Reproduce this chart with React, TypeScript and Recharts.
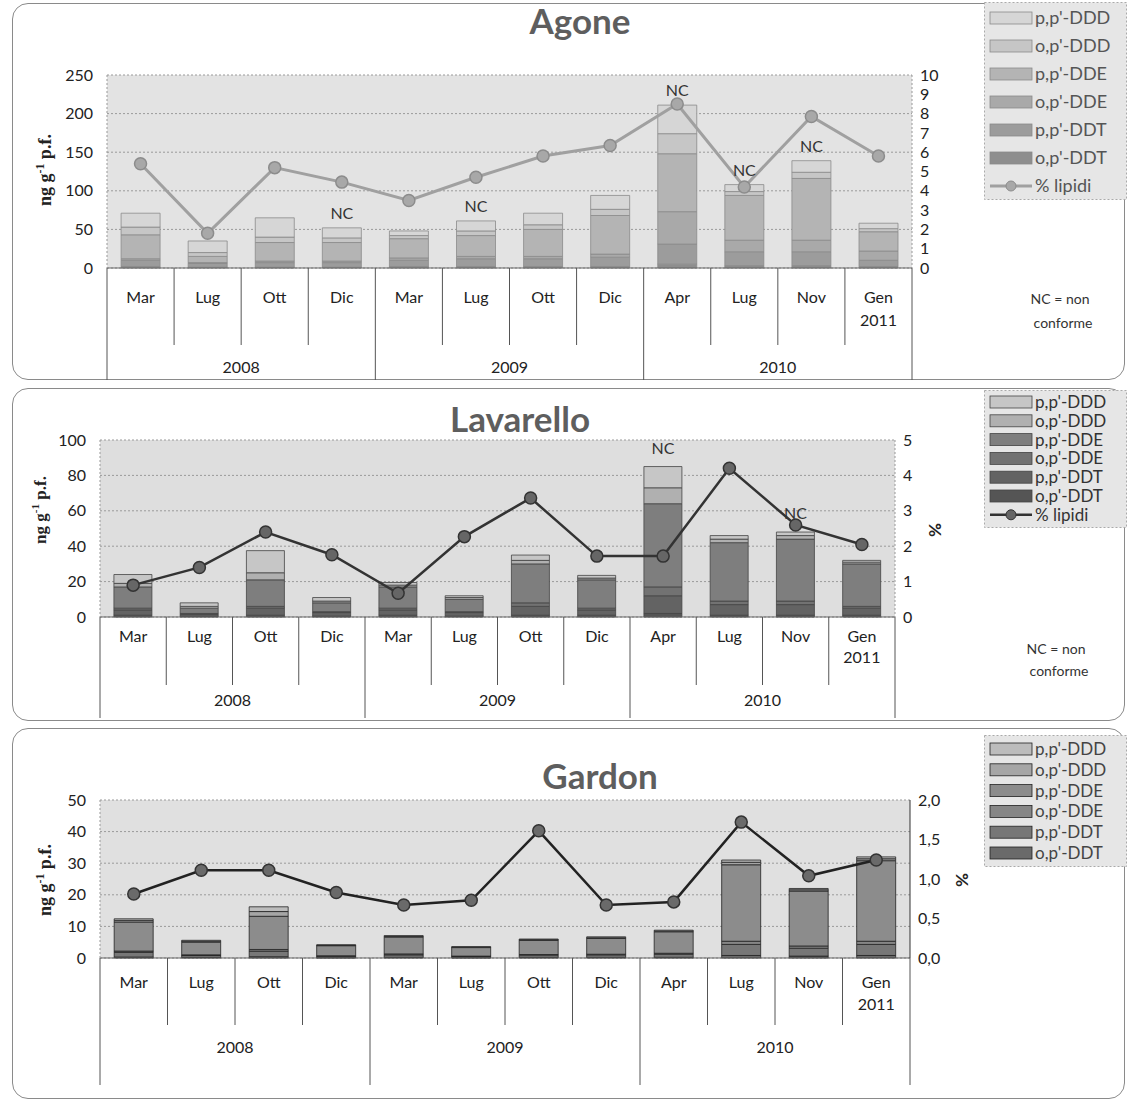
import React from 'react';
import { ComposedChart, Bar, Line, XAxis, YAxis, CartesianGrid, LabelList } from 'recharts';

const FONT = 'Lato, "Open Sans", sans-serif';
const W = 1128;

// ---------- shared categories ----------
const categories = ['Mar 2008', 'Lug 2008', 'Ott 2008', 'Dic 2008', 'Mar 2009', 'Lug 2009', 'Ott 2009', 'Dic 2009', 'Apr 2010', 'Lug 2010', 'Nov 2010', 'Gen 2011'];
const monthLabels = ['Mar', 'Lug', 'Ott', 'Dic', 'Mar', 'Lug', 'Ott', 'Dic', 'Apr', 'Lug', 'Nov', 'Gen'];
const monthSubLabels = ['', '', '', '', '', '', '', '', '', '', '', '2011'];
const yearLabels = ['2008', '2009', '2010'];
const yearGroupStart = [0, 4, 8];
const yearGroupLen = [4, 4, 4];

// stack order bottom -> top
const seriesKeys = ['opDDT', 'ppDDT', 'opDDE', 'ppDDE', 'opDDD', 'ppDDD'];
const seriesNames = ["o,p'-DDT", "p,p'-DDT", "o,p'-DDE", "p,p'-DDE", "o,p'-DDD", "p,p'-DDD"];
const lipidName = '% lipidi';

// ---------- Agone ----------
const agoneOpDDT = [2, 1, 1, 1, 2, 2, 2, 2, 5, 3, 3, 2];
const agonePpDDT = [8, 5, 6, 6, 8, 10, 10, 12, 26, 18, 18, 8];
const agoneOpDDE = [2, 1, 2, 2, 3, 3, 3, 4, 42, 15, 15, 12];
const agonePpDDE = [31, 8, 24, 24, 25, 27, 35, 50, 75, 58, 80, 25];
const agoneOpDDD = [10, 5, 7, 6, 4, 6, 6, 8, 26, 5, 8, 4];
const agonePpDDD = [18, 15, 25, 13, 6, 13, 15, 18, 37, 9, 15, 7];
const agoneLipidi = [5.4, 1.8, 5.2, 4.45, 3.5, 4.7, 5.8, 6.35, 8.5, 4.2, 7.85, 5.8];
const agoneNC = [0, 0, 0, 1, 0, 1, 0, 0, 1, 1, 1, 0];
const agoneLeftTicks = [0, 50, 100, 150, 200, 250];
const agoneRightTicks = [0, 1, 2, 3, 4, 5, 6, 7, 8, 9, 10];

// ---------- Lavarello ----------
const lavOpDDT = [1, 0.5, 1, 0.5, 1, 0.5, 1, 1, 2, 1, 1, 1];
const lavPpDDT = [3, 1, 4, 2, 3, 2, 5, 3, 10, 6, 6, 4];
const lavOpDDE = [1, 0.5, 1, 0.5, 1, 0.5, 2, 1, 5, 2, 2, 1];
const lavPpDDE = [12, 3, 15, 5, 12, 7, 22, 16, 47, 33, 35, 24];
const lavOpDDD = [2, 1, 4, 1, 1, 1, 2, 1, 9, 2, 2, 1];
const lavPpDDD = [5, 2, 12.5, 2, 1.5, 1, 3, 1.5, 12, 2, 2, 1];
const lavLipidi = [0.9, 1.4, 2.4, 1.76, 0.67, 2.27, 3.36, 1.72, 1.72, 4.2, 2.6, 2.05];
const lavNC = [0, 0, 0, 0, 0, 0, 0, 0, 1, 0, 1, 0];
const lavLeftTicks = [0, 20, 40, 60, 80, 100];
const lavRightTicks = [0, 1, 2, 3, 4, 5];

// ---------- Gardon ----------
const garOpDDT = [0.3, 0.2, 0.4, 0.1, 0.2, 0.1, 0.2, 0.2, 0.2, 0.8, 0.6, 0.8];
const garPpDDT = [1.5, 0.6, 1.8, 0.5, 0.8, 0.4, 0.7, 0.8, 1.0, 3.5, 2.5, 3.5];
const garOpDDE = [0.4, 0.2, 0.5, 0.1, 0.3, 0.1, 0.2, 0.2, 0.3, 1.0, 0.7, 1.0];
const garPpDDE = [9.2, 4.0, 10.5, 3.2, 5.3, 2.7, 4.5, 5.0, 6.8, 24.2, 17.4, 25.5];
const garOpDDD = [0.5, 0.3, 1.5, 0.1, 0.2, 0.1, 0.2, 0.2, 0.2, 0.8, 0.4, 0.6];
const garPpDDD = [0.5, 0.3, 1.5, 0.2, 0.3, 0.2, 0.2, 0.3, 0.3, 0.7, 0.4, 0.6];
const garLipidi = [0.81, 1.11, 1.11, 0.83, 0.67, 0.73, 1.61, 0.67, 0.71, 1.72, 1.04, 1.24];
const garNC = [0, 0, 0, 0, 0, 0, 0, 0, 0, 0, 0, 0];
const garLeftTicks = [0, 10, 20, 30, 40, 50];
const garRightTicks = [0, 0.5, 1, 1.5, 2];

const fmtInt = (v: number) => String(v);
const fmtComma = (v: number) => v.toFixed(1).replace('.', ',');

const panels: any[] = [
  {
    title: 'Agone', top: 0, height: 382, titleX: 580, titleY: 20,
    border: { top: 3, height: 377 },
    plotLeft: 107, plotRight: 912, plotTop: 75, plotBottom: 268,
    leftTicks: agoneLeftTicks, rightTicks: agoneRightTicks, rightFmt: fmtInt,
    series: [agoneOpDDT, agonePpDDT, agoneOpDDE, agonePpDDE, agoneOpDDD, agonePpDDD],
    lipidi: agoneLipidi, nc: agoneNC, ncDy: 9,
    colors: ['#8e8e8e', '#9c9c9c', '#a9a9a9', '#b4b4b4', '#c6c6c6', '#d6d6d6'],
    barStroke: '#8a8a8a', bg: '#e3e3e3',
    lineStroke: '#a0a0a0', lineWidth: 3, dotFill: '#a8a8a8', dotStroke: '#8c8c8c',
    monthDy: 35, subDy: 58, monthSep: 77, yearSep: 112, yearDy: 105,
    legend: { x: 984, y: 2, w: 143, h: 198, row0: 16, rowH: 28, fs: 18, showLine: true, color: '#555' },
    yTitle: { x: 45, y: 170, fs: 18 }, pct: null,
    note: { x: 1060, y1: 298, y2: 322 },
    rightAxisStroke: '#999', rightDash: '2 2',
  },
  {
    title: 'Lavarello', top: 388, height: 334, titleX: 520, titleY: 30,
    border: { top: 0, height: 333 },
    plotLeft: 100, plotRight: 895, plotTop: 52, plotBottom: 229,
    leftTicks: lavLeftTicks, rightTicks: lavRightTicks, rightFmt: fmtInt,
    series: [lavOpDDT, lavPpDDT, lavOpDDE, lavPpDDE, lavOpDDD, lavPpDDD],
    lipidi: lavLipidi, nc: lavNC, ncDy: 13,
    colors: ['#555555', '#636363', '#727272', '#7e7e7e', '#b0b0b0', '#c6c6c6'],
    barStroke: '#444', bg: '#dedede',
    lineStroke: '#333', lineWidth: 2.5, dotFill: '#666', dotStroke: '#333',
    monthDy: 25, subDy: 46, monthSep: 68, yearSep: 101, yearDy: 89,
    legend: { x: 984, y: 2, w: 143, h: 138, row0: 12, rowH: 18.8, fs: 17, showLine: true, color: '#333' },
    yTitle: { x: 40, y: 122, fs: 17 }, pct: { x: 935, y: 142 },
    note: { x: 1056, y1: 260, y2: 282 },
    rightAxisStroke: '#999', rightDash: '2 2',
  },
  {
    title: 'Gardon', top: 728, height: 372, titleX: 600, titleY: 47,
    border: { top: 0, height: 371 },
    plotLeft: 100, plotRight: 910, plotTop: 72, plotBottom: 230,
    leftTicks: garLeftTicks, rightTicks: garRightTicks, rightFmt: fmtComma,
    series: [garOpDDT, garPpDDT, garOpDDE, garPpDDE, garOpDDD, garPpDDD],
    lipidi: garLipidi, nc: garNC, ncDy: 9,
    colors: ['#6a6a6a', '#777777', '#868686', '#8c8c8c', '#a6a6a6', '#bcbcbc'],
    barStroke: '#222', bg: '#e0e0e0',
    lineStroke: '#222', lineWidth: 2.5, dotFill: '#6a6a6a', dotStroke: '#333',
    monthDy: 30, subDy: 52, monthSep: 67, yearSep: 127, yearDy: 95,
    legend: { x: 984, y: 7, w: 143, h: 132, row0: 14, rowH: 20.8, fs: 17, showLine: false, color: '#444' },
    yTitle: { x: 45, y: 152, fs: 18 }, pct: { x: 962, y: 152 },
    note: null,
    rightAxisStroke: '#333', rightDash: undefined,
  },
];

function XTick(props: any) {
  const { x, y, payload, cfg } = props;
  const i = props.index ?? payload?.index ?? 0;
  const band = (cfg.plotRight - cfg.plotLeft) / categories.length;
  const left = x - band / 2;
  const g = yearGroupStart.indexOf(i);
  const isStart = g >= 0;
  const last = i === categories.length - 1;
  const yearIdx = yearGroupStart.findIndex((s, k) => i === s + Math.floor(yearGroupLen[k] / 2) - 1);
  return (
    <g>
      <line x1={left} x2={left} y1={y} y2={y + (isStart ? cfg.yearSep : cfg.monthSep)} stroke="#555" strokeWidth={1} />
      {last && <line x1={left + band} x2={left + band} y1={y} y2={y + cfg.yearSep} stroke="#555" strokeWidth={1} />}
      <text x={x} y={y + cfg.monthDy} textAnchor="middle" fontFamily={FONT} fontSize={16} fill="#222">{monthLabels[i]}</text>
      {monthSubLabels[i] && (
        <text x={x} y={y + cfg.subDy} textAnchor="middle" fontFamily={FONT} fontSize={16} fill="#222">{monthSubLabels[i]}</text>
      )}
      {yearIdx >= 0 && (
        <text x={x + (yearGroupLen[yearIdx] % 2 === 0 ? band / 2 : 0)} y={y + cfg.yearDy} textAnchor="middle" fontFamily={FONT} fontSize={16} fill="#222">{yearLabels[yearIdx]}</text>
      )}
    </g>
  );
}

function LegendBox({ cfg }: any) {
  const L = cfg.legend;
  const rows: any[] = [];
  for (let k = seriesKeys.length - 1; k >= 0; k--) rows.push({ name: seriesNames[k], color: cfg.colors[k], type: 'bar' });
  if (L.showLine) rows.push({ name: lipidName, type: 'line' });
  return (
    <svg style={{ position: 'absolute', left: L.x, top: cfg.top + L.y }} width={L.w} height={L.h}>
      <rect x={0.5} y={0.5} width={L.w - 1} height={L.h - 1} fill="#e6e6e6" stroke="#aaa" strokeDasharray="2 2" />
      {rows.map((r, j) => {
        const cy = L.row0 + j * L.rowH;
        return (
          <g key={j}>
            {r.type === 'bar' ? (
              <rect x={6} y={cy - 6} width={42} height={12} fill={r.color} stroke={cfg.barStroke} strokeWidth={0.8} />
            ) : (
              <g>
                <line x1={6} x2={48} y1={cy} y2={cy} stroke={cfg.lineStroke} strokeWidth={cfg.lineWidth} />
                <circle cx={27} cy={cy} r={5} fill={cfg.dotFill} stroke={cfg.dotStroke} />
              </g>
            )}
            <text x={51} y={cy + 6} fontFamily={FONT} fontSize={L.fs} fill={L.color}>{r.name}</text>
          </g>
        );
      })}
    </svg>
  );
}

function Panel({ cfg }: any) {
  const data = categories.map((c, i) => {
    const row: any = { cat: c, lip: cfg.lipidi[i], nc: cfg.nc[i] };
    seriesKeys.forEach((k, s) => { row[k] = cfg.series[s][i]; });
    return row;
  });
  const leftMax = cfg.leftTicks[cfg.leftTicks.length - 1];
  const rightMax = cfg.rightTicks[cfg.rightTicks.length - 1];
  const tickStyle = { fontFamily: FONT, fontSize: 16, fill: '#222' };
  return (
    <>
      <div style={{ position: 'absolute', left: 12, top: cfg.top + cfg.border.top, width: 1113, height: cfg.border.height, border: '1.5px solid #8a8a8a', borderRadius: 16, boxSizing: 'border-box' }} />
      <div style={{ position: 'absolute', left: 0, top: cfg.top, width: W, height: cfg.height }}>
        <ComposedChart width={W} height={cfg.height} data={data} margin={{ top: cfg.plotTop, right: 0, left: 0, bottom: 0 }} barCategoryGap="21%">
          <CartesianGrid yAxisId="l" xAxisId="x" vertical={false} horizontal={true} fill={cfg.bg} stroke="#9a9a9a" strokeDasharray="2 2" />
          <XAxis xAxisId="x" dataKey="cat" interval={0} height={cfg.height - cfg.plotBottom} tickLine={false} tickSize={0} tickMargin={0}
            axisLine={{ stroke: '#666' }} tick={(p: any) => <XTick {...p} cfg={cfg} />} />
          <YAxis yAxisId="l" orientation="left" width={cfg.plotLeft} domain={[0, leftMax]} ticks={cfg.leftTicks} interval={0}
            tickLine={false} tickMargin={8} tick={tickStyle} axisLine={{ stroke: '#999', strokeDasharray: '2 2' }} />
          <YAxis yAxisId="r" orientation="right" width={W - cfg.plotRight} domain={[0, rightMax]} ticks={cfg.rightTicks} interval={0}
            tickFormatter={cfg.rightFmt} tickLine={false} tickMargin={2} tick={tickStyle}
            axisLine={{ stroke: cfg.rightAxisStroke, strokeDasharray: cfg.rightDash }} />
          {seriesKeys.map((k, s) => (
            <Bar key={k} xAxisId="x" yAxisId="l" dataKey={k} name={seriesNames[s]} stackId="a" fill={cfg.colors[s]}
              stroke={cfg.barStroke} strokeWidth={0.8} isAnimationActive={false}>
              {s === seriesKeys.length - 1 && (
                <LabelList dataKey="nc" content={(p: any) => (p.value ? (
                  <text x={p.x + p.width / 2} y={p.y - cfg.ncDy} textAnchor="middle" fontFamily={FONT} fontSize={16} fill="#333">NC</text>
                ) : null)} />
              )}
            </Bar>
          ))}
          <Line xAxisId="x" yAxisId="r" dataKey="lip" name={lipidName} stroke={cfg.lineStroke} strokeWidth={cfg.lineWidth}
            dot={{ r: 6, fill: cfg.dotFill, stroke: cfg.dotStroke, strokeWidth: 1.5 }} isAnimationActive={false} />
        </ComposedChart>
      </div>
      <div style={{ position: 'absolute', left: 0, width: W, top: cfg.top + cfg.titleY - 20, textAlign: 'left', pointerEvents: 'none' }}>
        <div style={{ position: 'absolute', left: cfg.titleX, transform: 'translateX(-50%)', fontFamily: FONT, fontWeight: 700, fontSize: 35, color: '#5e5e5e', lineHeight: '40px', whiteSpace: 'nowrap' }}>{cfg.title}</div>
      </div>
      <div style={{ position: 'absolute', left: cfg.yTitle.x, top: cfg.top + cfg.yTitle.y, transform: 'translate(-50%, -50%) rotate(-90deg)', fontFamily: '"Liberation Serif", "DejaVu Serif", serif', fontWeight: 700, fontSize: cfg.yTitle.fs, color: '#222', whiteSpace: 'nowrap' }}>
        ng g<sup style={{ fontSize: '0.65em' }}>-1</sup> p.f.
      </div>
      {cfg.pct && (
        <div style={{ position: 'absolute', left: cfg.pct.x, top: cfg.top + cfg.pct.y, transform: 'translate(-50%, -50%) rotate(90deg)', fontFamily: FONT, fontWeight: 700, fontSize: 17, color: '#222' }}>%</div>
      )}
      {cfg.note && (
        <>
          <div style={{ position: 'absolute', left: cfg.note.x, top: cfg.top + cfg.note.y1, transform: 'translate(-50%, -50%)', fontFamily: FONT, fontSize: 14, color: '#333', whiteSpace: 'nowrap' }}>NC = non</div>
          <div style={{ position: 'absolute', left: cfg.note.x + 3, top: cfg.top + cfg.note.y2, transform: 'translate(-50%, -50%)', fontFamily: FONT, fontSize: 14, color: '#333', whiteSpace: 'nowrap' }}>conforme</div>
        </>
      )}
      <LegendBox cfg={cfg} />
    </>
  );
}

export default function App() {
  return (
    <div style={{ position: 'absolute', left: 0, top: 0, width: W, height: 1102, background: '#fff', overflow: 'hidden' }}>
      {panels.map((p) => <Panel key={p.title} cfg={p} />)}
    </div>
  );
}
